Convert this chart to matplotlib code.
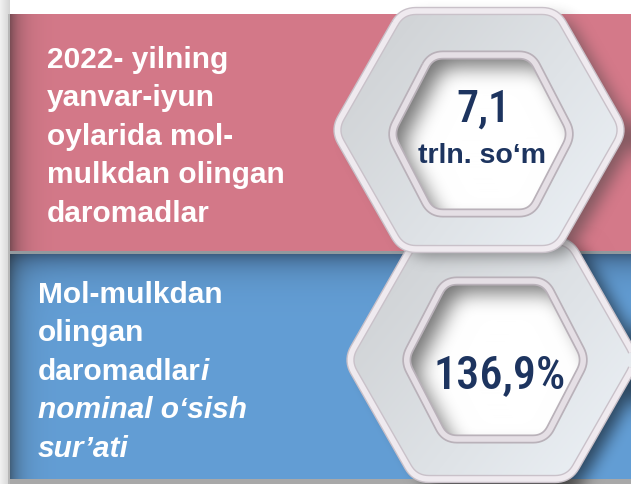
import os
import numpy as np
import matplotlib
matplotlib.use("Agg")
import matplotlib.pyplot as plt
from matplotlib.patches import PathPatch
from matplotlib.path import Path
from matplotlib import font_manager as fm

# ---- content ----
label_top = ["2022- yilning", "yanvar-iyun", "oylarida mol-", "mulkdan olingan", "daromadlar"]
label_bottom = ["Mol-mulkdan", "olingan", "daromadlar"]
label_bottom_italic_tail = "i"
label_bottom_italic = ["nominal o\u2018sish", "sur\u2019ati"]
value_top = "7,1"
unit_top = "trln. so\u2018m"
value_bottom = "136,9%"

# ---- colours ----
PINK = np.array([212, 121, 137]) / 255
BLUE = np.array([99, 158, 213]) / 255
BLUE_DARK = np.array([60, 94, 130]) / 255
NAVY = "#1d345f"

# ---- choose a condensed font for the big numbers if one is installed ----
prefs = ["robotocondensed-medium", "robotocondensed-regular", "notosans-condensedmedium",
         "notosans-condensed.", "notosans-condensedregular", "liberationsansnarrow-regular",
         "dejavusanscondensed.ttf", "condensed", "narrow"]
files = [f.fname for f in fm.fontManager.ttflist]
cond_file = None
for p in prefs:
    for f in files:
        b = os.path.basename(f).lower()
        if p in b and "italic" not in b and "bold" not in b and "oblique" not in b:
            cond_file = f
            break
    if cond_file:
        break
if cond_file:
    num_fp = fm.FontProperties(fname=cond_file)
else:
    num_fp = fm.FontProperties(family=["Liberation Sans", "DejaVu Sans"])

W, H = 631, 485
fig = plt.figure(figsize=(W / 100, H / 100), dpi=100)
ax = fig.add_axes([0, 0, 1, 1])
ax.set_xlim(0, W)
ax.set_ylim(H, 0)
ax.axis("off")

yy, xx = np.mgrid[0:H, 0:W] + 0.5


def box1d(a, r, axis):
    pad = [(0, 0), (0, 0)]
    pad[axis] = (r + 1, r)
    p = np.pad(a, pad, mode="edge")
    c = np.cumsum(p, axis=axis)
    if axis == 0:
        return (c[2 * r + 1:] - c[:-2 * r - 1]) / (2 * r + 1)
    return (c[:, 2 * r + 1:] - c[:, :-2 * r - 1]) / (2 * r + 1)


def blur(a, r, passes=3):
    for _ in range(passes):
        a = box1d(box1d(a, r, 0), r, 1)
    return a


def hex_pts(cx, cy, hw, hh, fh):
    return np.array([(cx - fh, cy - hh), (cx + fh, cy - hh), (cx + hw, cy),
                     (cx + fh, cy + hh), (cx - fh, cy + hh), (cx - hw, cy)], float)


def rounded(pts, r, n=10):
    out = []
    N = len(pts)
    for i in range(N):
        p0, p1, p2 = pts[i - 1], pts[i], pts[(i + 1) % N]
        d1 = (p0 - p1) / np.linalg.norm(p0 - p1)
        d2 = (p2 - p1) / np.linalg.norm(p2 - p1)
        a = p1 + d1 * r
        b = p1 + d2 * r
        t = np.linspace(0, 1, n)[:, None]
        out.extend(((1 - t) ** 2 * a + 2 * (1 - t) * t * p1 + t ** 2 * b).tolist())
    out.append(out[0])
    return np.array(out)


def mask_of(pts, dx=0, dy=0):
    path = Path(pts + np.array([dx, dy]))
    return path.contains_points(np.c_[xx.ravel(), yy.ravel()]).reshape(H, W).astype(float)


# ---- background composite ----
img = np.ones((H, W, 3))
stripe = (xx < 10)
g = 0.95 - 0.12 * np.clip(xx / 10, 0, 1)
for c in range(3):
    img[..., c] = np.where(stripe, g, img[..., c])
pink_m = (xx >= 10) & (yy >= 15) & (yy < 252)
blue_m = (xx >= 10) & (yy >= 255) & (yy < 480)
sep_m = (xx >= 10) & (yy >= 252) & (yy < 255)
bot_m = (xx >= 10) & (yy >= 480)
wt = np.exp(-np.clip(yy - 255, 0, None) / 14.0)[..., None]
blue_img = BLUE * (1 - wt) + BLUE_DARK * wt
img = np.where(pink_m[..., None], PINK, img)
img = np.where(blue_m[..., None], blue_img, img)
img = np.where(sep_m[..., None], np.array([0.58, 0.60, 0.62]), img)
img = np.where(bot_m[..., None], np.array([0.66, 0.66, 0.66]), img)
shade = 1 - 0.5 * np.exp(-np.clip(xx - 10, 0, None) / 11.0)
panel = (pink_m | blue_m)
img = np.where(panel[..., None], img * shade[..., None] + (1 - shade[..., None]) * 0.12, img)
img = np.where(((xx >= 8.5) & (xx < 10) & (yy >= 15))[..., None], np.array([0.72, 0.72, 0.72]), img)

# hexagon geometry
outer_top = hex_pts(479, 131, 145, 119, 77)
outer_bot = hex_pts(492, 361, 145, 119, 77)
inner_top = hex_pts(481, 135, 91, 79, 50)
inner_bot = hex_pts(495, 361, 91, 79, 50)

ro_top = rounded(outer_top, 14)
ro_bot = rounded(outer_bot, 14)
ri_top = rounded(inner_top, 12)
ri_bot = rounded(inner_bot, 12)

sh = blur(mask_of(ro_bot, 12, 6), 7)
img = img * (1 - 0.55 * sh[..., None])

ax.imshow(img, extent=(0, W, H, 0), interpolation="bilinear", zorder=0)


def draw_hex(ro, ri, zo):
    x0, y0 = ro[:, 0].min(), ro[:, 1].min()
    x1, y1 = ro[:, 0].max(), ro[:, 1].max()
    t = np.clip(((xx - x0) / (x1 - x0) * 0.6 + (yy - y0) / (y1 - y0) * 0.4), 0, 1)
    c0 = np.array([0.80, 0.81, 0.82])
    c1 = np.array([0.93, 0.95, 0.97])
    face = c0 * (1 - t[..., None]) + c1 * t[..., None]
    patch = PathPatch(Path(ro), facecolor="none", edgecolor="none", zorder=zo)
    ax.add_patch(patch)
    im = ax.imshow(face, extent=(0, W, H, 0), interpolation="bilinear", zorder=zo)
    im.set_clip_path(patch)
    ax.add_patch(PathPatch(Path(ro), facecolor="none", edgecolor="#c9c1c9", lw=6.0, zorder=zo + 0.1,
                           joinstyle="round"))
    ax.add_patch(PathPatch(Path(ro), facecolor="none", edgecolor="#efeaef", lw=4.0, zorder=zo + 0.2,
                           joinstyle="round"))
    B = blur(mask_of(ri, 12, 12), 9)
    gval = 0.46 + 0.54 * B
    hole = np.dstack([gval, gval, gval])
    hp = PathPatch(Path(ri), facecolor="none", edgecolor="none", zorder=zo + 0.3)
    ax.add_patch(hp)
    im2 = ax.imshow(hole, extent=(0, W, H, 0), interpolation="bilinear", zorder=zo + 0.3)
    im2.set_clip_path(hp)
    ax.add_patch(PathPatch(Path(ri), facecolor="none", edgecolor="#b9b1b9", lw=6.5, zorder=zo + 0.4,
                           joinstyle="round"))
    ax.add_patch(PathPatch(Path(ri), facecolor="none", edgecolor="#e5dfe5", lw=4.0, zorder=zo + 0.5,
                           joinstyle="round"))


draw_hex(ro_bot, ri_bot, 2)

sh2 = blur(mask_of(ro_top, 12, 7), 7)
rgba = np.zeros((H, W, 4))
rgba[..., :3] = 0.25
rgba[..., 3] = 0.55 * sh2
ax.imshow(rgba, extent=(0, W, H, 0), interpolation="bilinear", zorder=3)

draw_hex(ro_top, ri_top, 4)

# ---- texts ----
LAB_FAMILY = ["Liberation Sans", "DejaVu Sans"]
LAB_SIZE = 21.5
lab = dict(family=LAB_FAMILY, weight="bold", size=LAB_SIZE, color="white",
           va="baseline", ha="left", zorder=10)
step = 38.5
y = 68
for line in label_top:
    ax.text(47, y, line, **lab)
    y += step

y = 303
last = None
for line in label_bottom:
    last = ax.text(38, y, line, **lab)
    y += step
ax.annotate(label_bottom_italic_tail, xy=(1, 0), xycoords=last, xytext=(-0.5, 0), textcoords="offset points",
            style="italic", family=LAB_FAMILY, weight="bold", size=LAB_SIZE,
            color="white", va="bottom", ha="left", zorder=10)
for line in label_bottom_italic:
    ax.text(38, y, line, style="italic", **lab)
    y += step

renderer = fig.canvas.get_renderer()


def fit_text(x, y, s, size, target_w):
    t = ax.text(x, y, s, fontproperties=num_fp, color=NAVY, ha="center", va="baseline", zorder=10)
    t.set_fontsize(size)
    w = t.get_window_extent(renderer).width
    if w > target_w:
        t.set_fontsize(size * target_w / w)
    return t


fit_text(483, 122, value_top, 37, 54)
ax.text(482, 163, unit_top, family=["Liberation Sans", "DejaVu Sans"], weight="bold", size=20.5,
        color=NAVY, ha="center", va="baseline", zorder=10)
fit_text(500, 388, value_bottom, 37, 132)

fig.savefig("out.png", dpi=100)
